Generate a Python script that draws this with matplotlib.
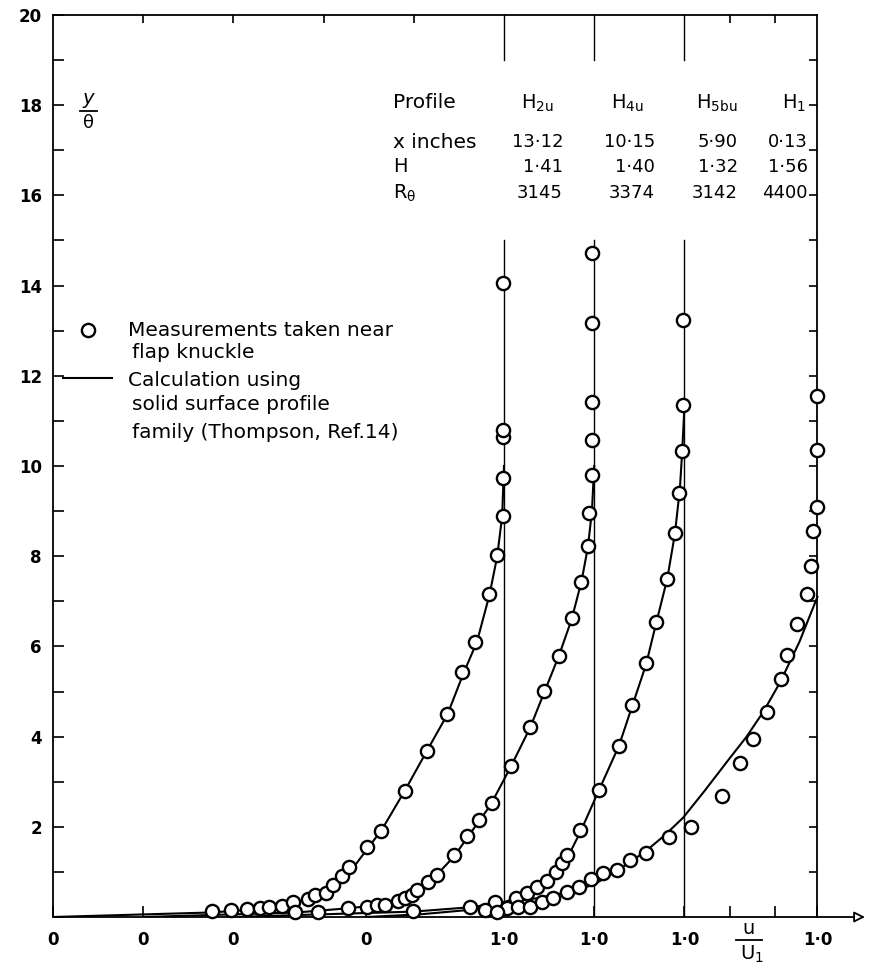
import numpy as np
import matplotlib.pyplot as plt
from matplotlib.lines import Line2D

plt.rcParams['font.family'] = 'DejaVu Sans'
plt.rcParams['mathtext.default'] = 'regular'

# ---- data ----
# horizontal shift of each profile (u/U1 units)
offsets = [0.0, 0.2, 0.4, 0.695]
profile_names = ['H$_{2u}$', 'H$_{4u}$', 'H$_{5bu}$', 'H$_{1}$']
x_inches = ['13·12', '10·15', '5·90', '0·13']
H_vals = ['1·41', '1·40', '1·32', '1·56']
R_theta = ['3145', '3374', '3142', '4400']

# measurements taken near flap knuckle (u/U1, y/theta)
u_h2u = [0.353, 0.395, 0.430, 0.459, 0.479, 0.508, 0.532, 0.565, 0.581, 0.605, 0.621,
         0.641, 0.656, 0.696, 0.727, 0.780, 0.829, 0.874, 0.907, 0.936, 0.967, 0.984,
         0.997, 0.998, 0.998, 0.998, 0.998]
y_h2u = [0.13, 0.16, 0.18, 0.20, 0.22, 0.24, 0.33, 0.40, 0.49, 0.53, 0.71,
         0.91, 1.11, 1.55, 1.91, 2.79, 3.68, 4.50, 5.43, 6.10, 7.16, 8.03,
         8.89, 9.73, 10.64, 10.80, 14.06]

u_h4u = [0.337, 0.388, 0.454, 0.496, 0.518, 0.536, 0.565, 0.580, 0.596, 0.607, 0.631,
         0.651, 0.689, 0.718, 0.745, 0.773, 0.816, 0.858, 0.889, 0.922, 0.951, 0.971,
         0.986, 0.988, 0.996, 0.996, 0.996, 0.996, 0.996]
y_h4u = [0.11, 0.10, 0.20, 0.22, 0.27, 0.27, 0.35, 0.42, 0.49, 0.60, 0.78,
         0.93, 1.37, 1.80, 2.15, 2.53, 3.35, 4.21, 5.01, 5.79, 6.63, 7.43,
         8.23, 8.96, 9.80, 10.58, 11.42, 13.17, 14.72]

u_h5bu = [0.398, 0.525, 0.580, 0.607, 0.627, 0.651, 0.673, 0.695, 0.715, 0.728, 0.740,
          0.768, 0.811, 0.855, 0.884, 0.915, 0.937, 0.962, 0.979, 0.988, 0.994, 0.998,
          0.998]
y_h5bu = [0.13, 0.22, 0.33, 0.20, 0.42, 0.53, 0.67, 0.80, 1.00, 1.20, 1.37,
          1.93, 2.82, 3.79, 4.70, 5.63, 6.54, 7.49, 8.51, 9.40, 10.33, 11.35,
          13.24]

u_h1 = [0.263, 0.290, 0.336, 0.363, 0.389, 0.414, 0.445, 0.471, 0.498, 0.525, 0.556,
        0.585, 0.620, 0.671, 0.720, 0.788, 0.828, 0.857, 0.888, 0.919, 0.932, 0.955,
        0.977, 0.986, 0.990, 1.000, 1.000, 1.000]
y_h1 = [0.16, 0.11, 0.22, 0.22, 0.33, 0.42, 0.55, 0.67, 0.84, 0.98, 1.04,
        1.26, 1.42, 1.77, 2.00, 2.68, 3.41, 3.95, 4.55, 5.28, 5.81, 6.50,
        7.16, 7.78, 8.55, 9.10, 10.35, 11.55]

# calculation using solid surface profile family
cu_h2u = [0.0, 0.35, 0.45, 0.50, 0.55, 0.60, 0.64, 0.67, 0.70, 0.73, 0.78, 0.83,
          0.875, 0.91, 0.94, 0.968, 0.985, 0.996, 1.0]
cy_h2u = [0.0, 0.10, 0.17, 0.24, 0.36, 0.56, 0.86, 1.15, 1.55, 1.95, 2.80, 3.70,
          4.50, 5.40, 6.10, 7.15, 8.00, 8.90, 10.0]

cu_h4u = [0.0, 0.34, 0.45, 0.52, 0.57, 0.60, 0.64, 0.69, 0.72, 0.77, 0.816, 0.858,
          0.89, 0.922, 0.95, 0.972, 0.986, 0.995, 1.0]
cy_h4u = [0.0, 0.10, 0.19, 0.26, 0.37, 0.50, 0.82, 1.35, 1.78, 2.48, 3.35, 4.20,
          5.00, 5.80, 6.60, 7.45, 8.20, 9.00, 10.0]

cu_h5bu = [0.0, 0.40, 0.53, 0.60, 0.65, 0.70, 0.74, 0.77, 0.81, 0.855, 0.885, 0.915,
           0.937, 0.962, 0.979, 0.99, 0.995, 1.0]
cy_h5bu = [0.0, 0.12, 0.22, 0.33, 0.50, 0.85, 1.30, 1.90, 2.80, 3.80, 4.70, 5.60,
           6.50, 7.50, 8.50, 9.50, 10.30, 11.30]

cu_h1 = [0.0, 0.12, 0.22, 0.29, 0.38, 0.44, 0.503, 0.56, 0.618, 0.66, 0.702, 0.75,
         0.80, 0.843, 0.88, 0.917, 0.96, 1.0]
cy_h1 = [0.0, 0.06, 0.15, 0.28, 0.42, 0.54, 0.71, 1.05, 1.45, 1.80, 2.20, 2.80,
         3.45, 4.00, 4.55, 5.20, 6.10, 7.10]

meas_u = [u_h2u, u_h4u, u_h5bu, u_h1]
meas_y = [y_h2u, y_h4u, y_h5bu, y_h1]
calc_u = [cu_h2u, cu_h4u, cu_h5bu, cu_h1]
calc_y = [cy_h2u, cy_h4u, cy_h5bu, cy_h1]

W, H = 872, 976


def px(x, y):
    # pixel position -> figure fraction
    return x / W, 1 - y / H


fig = plt.figure(figsize=(W / 100, H / 100), dpi=100)
ax = fig.add_axes([53 / W, 59 / H, 812 / W, 902 / H])
ax.set_xlim(0, 812 / 451)
ax.set_ylim(0, 20)
for s in ['top', 'right', 'bottom']:
    ax.spines[s].set_visible(False)
ax.spines['left'].set_linewidth(1.3)

x_right = offsets[3] + 1.0

# frame: top line, right line with inward ticks, bottom arrow
ax.plot([0, x_right], [20, 20], color='k', lw=1.3, clip_on=False)
ax.plot([x_right, x_right], [0, 20], color='k', lw=1.3, clip_on=False)
ax.plot([x_right] * 19, np.arange(1, 20), ls='none', marker=0, ms=6, mew=1.2,
        color='k', clip_on=False)
ax.plot([0.2, 0.4, 0.6, 0.8, 1.5, 1.6], [20] * 6, ls='none', marker=3, ms=6,
        mew=1.2, color='k', clip_on=False)
ax.annotate('', xy=(812 / 451, 0), xytext=(0, 0), annotation_clip=False,
            arrowprops=dict(arrowstyle='-|>', lw=1.3, color='k', fc='white',
                            mutation_scale=16, shrinkA=0, shrinkB=0))

# u/U1 = 1 reference lines
for off in offsets[:3]:
    ax.plot([off + 1, off + 1], [0, 15], color='k', lw=1.0)
    ax.plot([off + 1, off + 1], [19, 20], color='k', lw=1.0, clip_on=False)

# calculated curves and measured points
for off, cu, cy in zip(offsets, calc_u, calc_y):
    ax.plot(off + np.array(cu), cy, color='k', lw=1.5, zorder=2)
for off, mu, my in zip(offsets, meas_u, meas_y):
    ax.plot(off + np.array(mu), my, ls='none', marker='o', ms=9.5, mfc='white',
            mec='k', mew=1.7, zorder=3, clip_on=False)

# ticks
xt = [0] + offsets[1:] + [off + 1 for off in offsets]
xl = ['0'] * 4 + ['1·0'] * 4
ax.set_xticks(xt)
ax.set_xticklabels(xl, fontsize=12, fontweight='bold')
ax.set_xticks([1.5, 1.6], minor=True)
ax.tick_params(axis='x', which='both', direction='in', length=8, width=1.2, pad=10)

ax.set_yticks(np.arange(0, 21, 2))
ax.set_yticklabels([''] + [str(v) for v in range(2, 21, 2)], fontsize=12,
                   fontweight='bold')
ax.set_yticks(np.arange(1, 20, 2), minor=True)
ax.tick_params(axis='y', which='both', direction='in', length=8, width=1.2, pad=8)

# axis labels as fractions
fig.text(*px(88, 99), 'y', ha='center', va='center', fontsize=14, style='italic')
fig.add_artist(Line2D([80 / W, 97 / W], [1 - 111 / H] * 2, color='k', lw=1.3))
fig.text(*px(88, 123), r'$\theta$', ha='center', va='center', fontsize=13)

fig.text(*px(748, 928), 'u', ha='center', va='center', fontsize=14)
fig.add_artist(Line2D([736 / W, 762 / W], [1 - 940 / H] * 2, color='k', lw=1.3))
fig.text(*px(752, 954), 'U$_1$', ha='center', va='center', fontsize=14)

# legend
fig.add_artist(Line2D([88 / W], [1 - 330 / H], ls='none', marker='o', ms=9.5,
                      mfc='white', mec='k', mew=1.7))
fig.add_artist(Line2D([63 / W, 112 / W], [1 - 378 / H] * 2, color='k', lw=1.5))
leg_lines = [(128, 330, 'Measurements taken near'),
             (132, 353, 'flap knuckle'),
             (128, 380, 'Calculation using'),
             (132, 405, 'solid surface profile'),
             (132, 432, 'family (Thompson, Ref.14)')]
for lx, ly, txt in leg_lines:
    fig.text(*px(lx, ly), txt, ha='left', va='center', fontsize=14.5)

# table
row_y = [103, 142, 167, 193]
fig.text(*px(393, row_y[0]), 'Profile', ha='left', va='center', fontsize=14.5)
fig.text(*px(393, row_y[1]), 'x inches', ha='left', va='center', fontsize=14.5)
fig.text(*px(393, row_y[2]), 'H', ha='left', va='center', fontsize=14)
fig.text(*px(393, row_y[3]), r'R$_{\theta}$', ha='left', va='center', fontsize=14)
head_x = [537, 627, 717, 794]
val_x = [563, 655, 738, 808]
for i in range(4):
    fig.text(*px(head_x[i], row_y[0]), profile_names[i], ha='center', va='center',
             fontsize=14)
    fig.text(*px(val_x[i], row_y[1]), x_inches[i], ha='right', va='center', fontsize=13)
    fig.text(*px(val_x[i], row_y[2]), H_vals[i], ha='right', va='center', fontsize=13)
    fig.text(*px(val_x[i], row_y[3]), R_theta[i], ha='right', va='center', fontsize=13)

fig.savefig('out.png', dpi=100)
